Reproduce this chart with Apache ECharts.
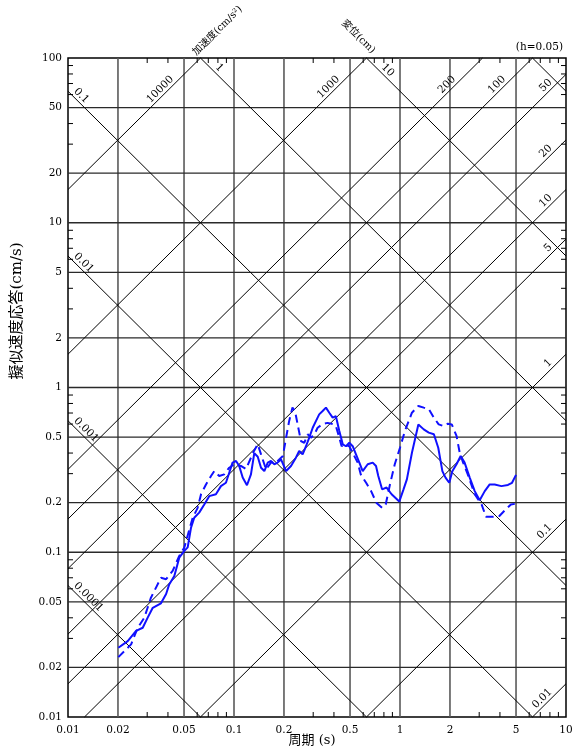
<!DOCTYPE html>
<html><head><meta charset="utf-8">
<script src="https://cdn.jsdelivr.net/npm/echarts@6/dist/echarts.min.js"></script>
<style>html,body{margin:0;padding:0;background:#fff}#c{width:577px;height:750px}</style>
</head><body><div id="c"></div>
<script>
// ---- tick / reference-line definitions ----
const periodTicks = [0.01,0.02,0.05,0.1,0.2,0.5,1,2,5,10];
const periodTickLabels = ['0.01','0.02','0.05','0.1','0.2','0.5','1','2','5','10'];
const velTicks = [0.01,0.02,0.05,0.1,0.2,0.5,1,2,5,10,20,50,100];
const velTickLabels = ['0.01','0.02','0.05','0.1','0.2','0.5','1','2','5','10','20','50','100'];
const accelValues = [0.01,0.1,1,5,10,20,50,100,200,1000,10000];
const accelLabels = ['0.01','0.1','1','5','10','20','50','100','200','1000','10000'];
const dispValues = [0.0001,0.001,0.01,0.1,1,10,100];
const dispLabels = ['0.0001','0.001','0.01','0.1','1','10',''];

// ---- spectra ----
const solidPeriod = [
0.0201,0.0229,0.0257,0.0282,0.0302,0.0324,0.0363,0.039,0.0407,0.0437,
0.0468,0.0502,0.0526,0.0551,0.0576,0.0617,0.0662,0.0709,0.0778,0.0834,
0.0894,0.0936,0.098,0.1029,0.1075,0.1128,0.1197,0.1265,0.1325,0.139,
0.1455,0.1523,0.1597,0.167,0.175,0.183,0.192,0.206,0.2205,0.236,
0.247,0.259,0.2715,0.284,0.298,0.312,0.326,0.342,0.358,0.375,
0.393,0.411,0.431,0.452,0.473,0.495,0.519,0.543,0.569,0.596,
0.639,0.685,0.717,0.74,0.78,0.83,0.89,0.99,1.05,1.10,
1.18,1.29,1.39,1.49,1.60,1.70,1.80,1.88,1.98,2.07,
2.19,2.32,2.45,2.63,2.82,3.02,3.24,3.47,3.72,4.08,
4.47,4.73,5.0];
const solidSv = [
0.0263,0.0289,0.0333,0.0348,0.0401,0.046,0.049,0.0558,0.0638,0.0718,
0.0927,0.102,0.107,0.141,0.162,0.174,0.195,0.219,0.225,0.252,
0.264,0.304,0.35,0.358,0.334,0.284,0.255,0.297,0.40,0.38,
0.326,0.311,0.35,0.358,0.342,0.35,0.366,0.311,0.334,0.375,
0.412,0.393,0.44,0.496,0.57,0.627,0.687,0.72,0.755,0.703,
0.656,0.67,0.544,0.452,0.44,0.462,0.44,0.393,0.35,0.311,
0.342,0.35,0.334,0.29,0.241,0.247,0.225,0.203,0.241,0.277,
0.402,0.597,0.557,0.532,0.52,0.431,0.311,0.284,0.264,0.311,
0.342,0.384,0.35,0.284,0.235,0.207,0.235,0.258,0.258,0.252,
0.256,0.264,0.295];
const dashedPeriod = [
0.0201,0.024,0.0263,0.0288,0.0316,0.0339,0.0363,0.039,0.0427,0.0468,
0.0502,0.0564,0.0604,0.0633,0.0678,0.0727,0.0761,0.0815,0.0873,0.0936,
0.1002,0.110,0.118,0.132,0.139,0.1455,0.156,0.167,0.179,0.197,
0.206,0.215,0.225,0.233,0.244,0.253,0.265,0.278,0.291,0.305,
0.319,0.342,0.366,0.393,0.411,0.431,0.445,0.46,0.495,0.556,
0.58,0.625,0.67,0.72,0.78,0.82,0.87,0.93,1.0,1.07,
1.18,1.29,1.39,1.49,1.60,1.71,1.83,1.94,2.05,2.19,
2.29,2.40,2.56,2.82,3.10,3.30,3.6,3.97,4.36,4.66,
4.97];
const dashedSv = [
0.0231,0.0276,0.0348,0.040,0.053,0.061,0.070,0.0686,0.077,0.095,
0.107,0.162,0.186,0.225,0.258,0.29,0.311,0.29,0.297,0.326,
0.342,0.334,0.32,0.412,0.452,0.393,0.318,0.35,0.35,0.384,
0.496,0.627,0.755,0.72,0.57,0.473,0.462,0.52,0.496,0.52,
0.57,0.60,0.61,0.60,0.583,0.496,0.44,0.452,0.44,0.35,
0.297,0.264,0.235,0.2,0.186,0.195,0.258,0.342,0.431,0.544,
0.703,0.773,0.755,0.74,0.656,0.597,0.583,0.603,0.597,0.508,
0.402,0.35,0.297,0.225,0.195,0.164,0.164,0.166,0.183,0.195,
0.197];

const SERIF = "'DejaVu Serif','Noto Sans CJK JP',serif";
const X0 = 0.01, X1 = 10, Y0 = 0.01, Y1 = 100;
const L = Math.log10;
const TWO_PI = 2 * Math.PI;
const FONT = "10.5px " + SERIF;

function minorTicks(lo, hi) {
  const out = [];
  for (let e = Math.round(L(lo)); e < Math.round(L(hi)); e++) {
    [3,4,6,7,8,9].forEach(m => out.push(+(m * Math.pow(10, e)).toPrecision(6)));
  }
  return out;
}
const xMinor = minorTicks(X0, X1);
const yMinor = minorTicks(Y0, Y1);

function vGrid(params, api) {
  const v = api.value(0);
  if (v <= X0 * 1.0001 || v >= X1 * 0.9999) return null;
  const a = api.coord([v, Y0]), b = api.coord([v, Y1]);
  return {type:'line', silent:true, shape:{x1:a[0],y1:a[1],x2:b[0],y2:b[1]}, style:{stroke:'#5a5a5a', lineWidth:1.6}};
}
function hGrid(params, api) {
  const v = api.value(1);
  if (v <= Y0 * 1.0001 || v >= Y1 * 0.9999) return null;
  const a = api.coord([X0, v]), b = api.coord([X1, v]);
  return {type:'line', silent:true, shape:{x1:a[0],y1:a[1],x2:b[0],y2:b[1]}, style:{stroke:'#2a2a2a', lineWidth:1.3}};
}
function xTick(params, api) {
  const v = api.value(0);
  const a = api.coord([v, Y0]), b = api.coord([v, Y1]);
  return {type:'group', children:[
    {type:'line', shape:{x1:a[0],y1:a[1],x2:a[0],y2:a[1]-5}, style:{stroke:'#000', lineWidth:1}},
    {type:'line', shape:{x1:b[0],y1:b[1],x2:b[0],y2:b[1]+5}, style:{stroke:'#000', lineWidth:1}}
  ]};
}
function yTick(params, api) {
  const v = api.value(1);
  const a = api.coord([X0, v]), b = api.coord([X1, v]);
  return {type:'group', children:[
    {type:'line', shape:{x1:a[0],y1:a[1],x2:a[0]+5,y2:a[1]}, style:{stroke:'#000', lineWidth:1}},
    {type:'line', shape:{x1:b[0],y1:b[1],x2:b[0]-5,y2:b[1]}, style:{stroke:'#000', lineWidth:1}}
  ]};
}
function xLabel(params, api) {
  const p = api.coord([api.value(0), Y0]);
  return {type:'text', x:p[0], y:p[1] + 8, style:{text:periodTickLabels[params.dataIndex], fill:'#000', font:FONT, align:'center', verticalAlign:'top'}};
}
function yLabel(params, api) {
  const p = api.coord([X0, api.value(1)]);
  return {type:'text', x:p[0] - 6, y:p[1], style:{text:velTickLabels[params.dataIndex], fill:'#000', font:FONT, align:'right', verticalAlign:'middle'}};
}
function accelLine(params, api) {
  const A = api.value(0);
  const c = L(A / TWO_PI);            // log Sv = log T + c
  const xs = Math.max(L(X0), L(Y0) - c), xe = Math.min(L(X1), L(Y1) - c);
  if (xs >= xe) return null;
  const p0 = api.coord([Math.pow(10, xs), Math.pow(10, xs + c)]);
  const p1 = api.coord([Math.pow(10, xe), Math.pow(10, xe + c)]);
  const atTop = (L(Y1) - c) < L(X1);
  const h = atTop ? 24 : 11;
  return {type:'group', children:[
    {type:'line', shape:{x1:p0[0],y1:p0[1],x2:p1[0],y2:p1[1]}, style:{stroke:'#000', lineWidth:1}},
    {type:'text', x:p1[0] - h, y:p1[1] + h, rotation:Math.PI / 4,
      style:{text:accelLabels[params.dataIndex], x:0, y:-1, align:'right', verticalAlign:'bottom', font:FONT, fill:'#000'}}
  ]};
}
function dispLine(params, api) {
  const D = api.value(0);
  const c = L(TWO_PI * D);            // log Sv = -log T + c
  const xs = Math.max(L(X0), c - L(Y1)), xe = Math.min(L(X1), c - L(Y0));
  if (xs >= xe) return null;
  const p0 = api.coord([Math.pow(10, xs), Math.pow(10, c - xs)]);
  const p1 = api.coord([Math.pow(10, xe), Math.pow(10, c - xe)]);
  const atLeft = (c - L(Y1)) <= L(X0);
  const h = atLeft ? 3 : 12;
  return {type:'group', children:[
    {type:'line', shape:{x1:p0[0],y1:p0[1],x2:p1[0],y2:p1[1]}, style:{stroke:'#000', lineWidth:1}},
    {type:'text', x:p0[0] + h, y:p0[1] + h, rotation:-Math.PI / 4,
      style:{text:dispLabels[params.dataIndex], x:0, y:-1, align:'left', verticalAlign:'bottom', font:FONT, fill:'#000'}}
  ]};
}

const chart = echarts.init(document.getElementById('c'));
const axisCommon = {type:'log', logBase:10, axisLine:{show:false}, axisTick:{show:false}, axisLabel:{show:false}, splitLine:{show:false}};
chart.setOption({
  animation:false,
  grid:{left:68, right:11, top:58, bottom:33, show:true, borderColor:'#000', borderWidth:1.5},
  xAxis:Object.assign({min:X0, max:X1}, axisCommon),
  yAxis:Object.assign({min:Y0, max:Y1}, axisCommon),
  series:[
    {type:'custom', renderItem:vGrid, data:periodTicks.map(v => [v, 1]), silent:true, z:1},
    {type:'custom', renderItem:hGrid, data:velTicks.map(v => [1, v]), silent:true, z:1},
    {type:'custom', renderItem:xTick, data:xMinor.map(v => [v, 1]), silent:true, z:2},
    {type:'custom', renderItem:yTick, data:yMinor.map(v => [1, v]), silent:true, z:2},
    {type:'custom', renderItem:xLabel, data:periodTicks.map(v => [v, 1]), silent:true, z:2},
    {type:'custom', renderItem:yLabel, data:velTicks.map(v => [1, v]), silent:true, z:2},
    {type:'custom', renderItem:accelLine, data:accelValues.map(v => [v, 1]), silent:true, z:3},
    {type:'custom', renderItem:dispLine, data:dispValues.map(v => [v, 1]), silent:true, z:3},
    {type:'line', data:solidPeriod.map((t, i) => [t, solidSv[i]]), symbol:'none', showSymbol:false, z:10,
      lineStyle:{color:'#1010ff', width:2}},
    {type:'line', data:dashedPeriod.map((t, i) => [t, dashedSv[i]]), symbol:'none', showSymbol:false, z:10,
      lineStyle:{color:'#1010ff', width:2, type:[8,5]}}
  ]
});

const accApex = chart.convertToPixel({gridIndex:0}, [TWO_PI * Y1 / 10000, Y1]);
const dispApex = chart.convertToPixel({gridIndex:0}, [TWO_PI * 10 / Y1, Y1]);
chart.setOption({
  graphic:[
    {type:'text', x:17, y:311, rotation:Math.PI / 2, style:{text:'擬似速度応答(cm/s)', font:'15px ' + SERIF, fill:'#000', align:'center', verticalAlign:'middle'}},
    {type:'text', x:312, y:741, style:{text:'周期 (s)', font:'13px ' + SERIF, fill:'#000', align:'center', verticalAlign:'middle'}},
    {type:'text', x:563, y:47, style:{text:'(h=0.05)', font:FONT, fill:'#000', align:'right', verticalAlign:'middle'}},
    {type:'text', x:accApex[0] - 6, y:accApex[1] - 4, rotation:Math.PI / 4, style:{text:'加速度(cm/s²)', font:'10px ' + SERIF, fill:'#000', align:'left', verticalAlign:'middle'}},
    {type:'text', x:dispApex[0] + 7, y:dispApex[1] - 6, rotation:-Math.PI / 4, style:{text:'変位(cm)', font:'10px ' + SERIF, fill:'#000', align:'right', verticalAlign:'middle'}}
  ]
});
</script>
</body></html>
